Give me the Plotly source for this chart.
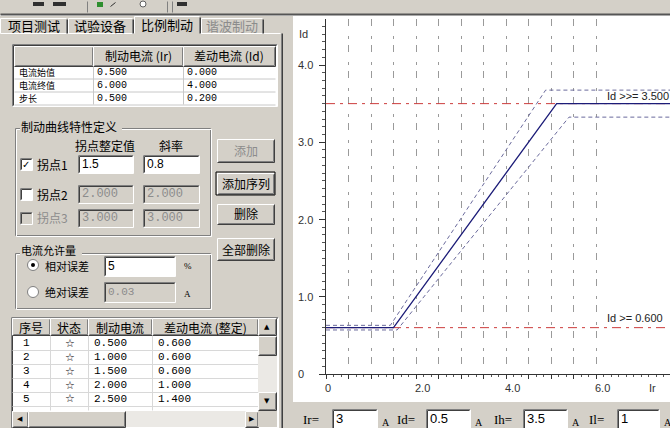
import plotly.graph_objects as go

# ---- chart data (Ir on x, Id on y) ----
ir_curve = [0, 1.5, 5.125, 7.7]
id_curve = [0.6, 0.6, 3.5, 3.5]
ir_upper = [0, 1.43, 4.88, 7.7]
id_upper = [0.63, 0.63, 3.675, 3.675]
ir_lower = [0, 1.58, 5.4, 7.7]
id_lower = [0.57, 0.57, 3.325, 3.325]
id_limits = [0.6, 3.5]
limit_text = ["Id >= 0.600", "Id >>= 3.500"]
limit_label_ir = [6.2, 6.2]
limit_label_id = [0.73, 3.6]

grid_ir = [0, 0.5, 1.0, 1.5, 2.0, 2.5, 3.0, 3.5, 4.0, 4.5, 5.0, 5.5, 6.0]
xtick_vals = [0, 2, 4, 6]
xtick_text = ["0", "2.0", "4.0", "6.0"]
ytick_vals = [0, 1, 2, 3, 4]
ytick_text = ["0", "1.0", "2.0", "3.0", "4.0"]

# ---- left panel contents ----
tabs = ["项目测试", "试验设备", "比例制动", "谐波制动"]
range_head = ["制动电流 (Ir)", "差动电流 (Id)"]
range_rows = ["电流始值", "电流终值", "步长"]
range_ir = ["0.500", "6.000", "0.500"]
range_id = ["0.000", "4.000", "0.200"]
knee_names = ["拐点1", "拐点2", "拐点3"]
knee_vals = ["1.5", "2.000", "3.000"]
knee_slopes = ["0.8", "2.000", "3.000"]
buttons = ["添加", "添加序列", "删除", "全部删除"]
seq_head = ["序号", "状态", "制动电流", "差动电流 (整定)"]
seq_no = ["1", "2", "3", "4", "5"]
seq_ir = ["0.500", "1.000", "1.500", "2.000", "2.500"]
seq_id = ["0.600", "0.600", "0.600", "1.000", "1.400"]
bottom_names = ["Ir=", "Id=", "Ih=", "Il="]
bottom_vals = ["3", "0.5", "3.5", "1"]

# page geometry in pixels
W, H = 670, 428
L, R, T, B = 326, 670, 19, 374

BG = "#d4d0c8"
DARK = "#808080"
DARKER = "#404040"
GREY_TXT = "#8c8c8c"
CJK = "Noto Sans CJK SC"
SANS = "Liberation Sans"
SERIF = "Liberation Serif"
MONO = "Liberation Mono"


def fx(x):
    return (x - L) / (R - L)


def fy(y):
    return (B - y) / (B - T)


shapes = []
annos = []


def rect(x0, y0, x1, y1, fill, line=None):
    shapes.append(dict(type="rect", xref="paper", yref="paper",
                       x0=fx(x0), x1=fx(x1), y0=fy(y1), y1=fy(y0),
                       fillcolor=fill, line=dict(width=1 if line else 0, color=line or fill)))


def seg(x0, y0, x1, y1, color, w=1):
    shapes.append(dict(type="line", xref="paper", yref="paper",
                       x0=fx(x0 + 0.5), x1=fx(x1 + 0.5), y0=fy(y0 + 0.5), y1=fy(y1 + 0.5),
                       line=dict(width=w, color=color)))


def circle(cx, cy, r, fill, line=None):
    shapes.append(dict(type="circle", xref="paper", yref="paper",
                       x0=fx(cx - r), x1=fx(cx + r), y0=fy(cy + r), y1=fy(cy - r),
                       fillcolor=fill, line=dict(width=1 if line else 0, color=line or fill)))


def txt(x, y, s, size=12, color="#000000", xa="left", font=CJK):
    annos.append(dict(x=fx(x), y=fy(y), xref="paper", yref="paper", text=s,
                      showarrow=False, xanchor=xa, yanchor="middle", borderpad=0,
                      font=dict(family=font, size=size, color=color)))


def sunken(x0, y0, x1, y1, fill="#ffffff"):
    rect(x0, y0, x1, y1, fill)
    seg(x0, y0, x1, y0, DARK)
    seg(x0, y0, x0, y1, DARK)
    seg(x0 + 1, y0 + 1, x1 - 1, y0 + 1, DARKER)
    seg(x0 + 1, y0 + 1, x0 + 1, y1 - 1, DARKER)
    seg(x0, y1, x1, y1, "#ffffff")
    seg(x1, y0, x1, y1, "#ffffff")


def raised(x0, y0, x1, y1, fill=BG):
    rect(x0, y0, x1, y1, fill)
    seg(x0, y0, x1, y0, "#ffffff")
    seg(x0, y0, x0, y1, "#ffffff")
    seg(x0, y1, x1, y1, DARKER)
    seg(x1, y0, x1, y1, DARKER)
    seg(x0 + 1, y1 - 1, x1 - 1, y1 - 1, DARK)
    seg(x1 - 1, y0 + 1, x1 - 1, y1 - 1, DARK)


def etched(x0, y0, x1, y1):
    for c, d in ((DARK, 0), ("#ffffff", 1)):
        seg(x0 + d, y0 + d, x1 + d, y0 + d, c)
        seg(x0 + d, y0 + d, x0 + d, y1 + d, c)
        seg(x0 + d, y1 + d, x1 + d, y1 + d, c)
        seg(x1 + d, y0 + d, x1 + d, y1 + d, c)


# ---- window background pieces ----
rect(0, 0, W, 15, BG)
seg(0, 14, W, 14, "#555555", 2)
rect(0, 16, 293, H, BG)
rect(283, 402, W, H, BG)

# toolbar hints
seg(87, 1, 87, 12, DARK)
seg(167, 1, 167, 12, DARK)
seg(172, 1, 172, 12, DARK)
rect(33, 2, 44, 6, "#303030")
rect(53, 2, 66, 6, "#303030")
rect(97, 2, 103, 7, "#2f8f2f")
seg(110, 6, 115, 2, "#303030")
circle(143, 4, 3, "#ffffff", "#606060")
rect(177, 2, 187, 6, "#303030")

# tabs
tab_x = [(0, 67), (68, 133), (134, 200), (201, 263)]
seg(0, 33, 280, 33, "#ffffff")
for i, (a, b) in enumerate(tab_x):
    top = 16 if i == 2 else 18
    if i == 2:
        rect(a, top, b, 34, BG)
    seg(a, top, b - 1, top, "#ffffff")
    seg(a, top, a, 33, "#ffffff")
    seg(b, top + 1, b, 33, DARKER)
    seg(b - 1, top + 1, b - 1, 33, DARK)
    txt((a + b) / 2, 25 if i == 2 else 26, tabs[i], xa="center", size=13,
        color=GREY_TXT if i == 3 else "#000000")
seg(281, 33, 281, H, DARK)
seg(282, 33, 282, H, DARKER)

# table with current range
sunken(12, 44, 277, 106)
col1 = [14, 93, 183, 275]
for i in range(3):
    raised(col1[i], 46, col1[i + 1], 66)
for i, h in enumerate(range_head):
    txt((col1[i + 1] + col1[i + 2]) / 2, 56, h, xa="center", size=12)
for r in range(3):
    yc = 72.5 + 13 * r
    seg(14, yc + 6, 275, yc + 6, "#c8c8c8")
    txt(18, yc, range_rows[r], size=9)
    txt(96, yc, range_ir[r], font=MONO, size=10)
    txt(186, yc, range_id[r], font=MONO, size=10)
seg(93, 66, 93, 104, "#c8c8c8")
seg(183, 66, 183, 104, "#c8c8c8")

# group: braking curve definition
etched(15, 128, 210, 235)
rect(20, 119, 122, 133, BG)
txt(20, 126, "制动曲线特性定义", size=12)
txt(105, 145, "拐点整定值", xa="center", size=12)
txt(171, 145, "斜率", xa="center", size=12)
for r in range(3):
    yc = [164, 194, 218][r]
    enabled = r == 0
    sunken(20, yc - 6, 32, yc + 6, "#ffffff" if r < 2 else BG)
    if enabled:
        txt(26, yc, "✓", size=10, xa="center", font="DejaVu Sans")
    txt(36, yc, knee_names[r], size=12, color="#000000" if r < 2 else GREY_TXT)
    box_fill = "#ffffff" if enabled else BG
    col = "#000000" if enabled else GREY_TXT
    sunken(78, yc - 9, 133, yc + 9, box_fill)
    sunken(143, yc - 9, 199, yc + 9, box_fill)
    txt(81, yc, knee_vals[r], font=MONO if not enabled else SANS, size=12, color=col)
    txt(146, yc, knee_slopes[r], font=MONO if not enabled else SANS, size=12, color=col)

# buttons
btn_y = [(139, 162), (173, 194), (204, 224), (238, 260)]
for i, (a, b) in enumerate(btn_y):
    if i == 1:
        rect(216, a - 1, 275, b + 1, BG, "#000000")
    raised(217, a, 274, b)
    txt(245.5, (a + b) / 2, buttons[i], xa="center", size=12,
        color=GREY_TXT if i == 0 else "#000000")

# group: allowed current error
etched(15, 253, 210, 308)
rect(20, 244, 82, 259, BG)
txt(20, 250, "电流允许量", size=11)
circle(33, 265, 5.5, "#ffffff", DARK)
circle(33, 265, 2, "#000000")
circle(33, 292, 5.5, "#ffffff", DARK)
txt(44, 266, "相对误差", size=11)
txt(44, 292, "绝对误差", size=11)
sunken(104, 256, 175, 276)
txt(107, 266, "5", font=SANS, size=12)
sunken(104, 282, 175, 302, BG)
txt(107, 292, "0.03", font=MONO, size=11, color=GREY_TXT)
txt(183, 266, "%", size=9, font=SERIF)
txt(183, 294, "A", size=9, font=SERIF)

# sequence table
sunken(11, 317, 278, 428)
col2 = [12, 50, 88, 152, 258]
for i in range(4):
    raised(col2[i], 318, col2[i + 1], 335)
    txt((col2[i] + col2[i + 1]) / 2, 327, seq_head[i], xa="center", size=12)
for r in range(5):
    yc = 343 + 14 * r
    seg(12, yc + 7, 258, yc + 7, "#d8d8d8")
    txt(26, yc, seq_no[r], xa="center", font=MONO, size=11)
    txt(70, yc, "☆", xa="center", size=11, font="DejaVu Sans")
    txt(93, yc, seq_ir[r], font=MONO, size=11)
    txt(157, yc, seq_id[r], font=MONO, size=11)
for c in col2[1:4]:
    seg(c, 335, c, 410, "#d8d8d8")
# scrollbars
rect(258, 318, 277, 410, "#ebe9e5")
raised(258, 318, 276, 335)
txt(267, 327, "▲", size=7, xa="center", font="DejaVu Sans")
raised(258, 336, 276, 355)
raised(258, 392, 276, 410)
txt(267, 401, "▼", size=7, xa="center", font="DejaVu Sans")
rect(12, 411, 258, 427, "#ebe9e5")
raised(12, 411, 28, 427)
txt(20, 419, "◀", size=7, xa="center", font="DejaVu Sans")
raised(28, 411, 125, 427)
raised(245, 411, 258, 427)
txt(251.5, 419, "▶", size=7, xa="center", font="DejaVu Sans")
rect(258, 411, 277, 427, BG)

# bottom input row of the chart panel
bx = [(332, 377), (426, 470), (523, 567), (617, 659)]
lx = [302, 396, 493, 588]
for i, (a, b) in enumerate(bx):
    txt(lx[i], 419, bottom_names[i], size=13, font=SERIF)
    sunken(a, 409, b, 430)
    txt(a + 3, 418, bottom_vals[i], size=13, font=SANS)
    txt(b + 4, 422, "A", size=10, font=SERIF)

# ---- chart ----
fig = go.Figure()
for lim in id_limits:
    fig.add_trace(go.Scatter(x=[0, 7.7], y=[lim, lim], mode="lines",
                             line=dict(color="#cc3c3c", width=1, dash="9px,5px,3px,5px")))
fig.add_trace(go.Scatter(x=ir_upper, y=id_upper, mode="lines",
                         line=dict(color="#6a6a9c", width=1, dash="4px,3px")))
fig.add_trace(go.Scatter(x=ir_lower, y=id_lower, mode="lines",
                         line=dict(color="#6a6a9c", width=1, dash="4px,3px")))
fig.add_trace(go.Scatter(x=ir_curve, y=id_curve, mode="lines",
                         line=dict(color="#1c1c78", width=1.3)))

for t, xv, yv in zip(limit_text, limit_label_ir, limit_label_id):
    annos.append(dict(x=xv, y=yv, xref="x", yref="y", text=t, showarrow=False,
                      xanchor="left", yanchor="middle",
                      font=dict(family=SANS, size=11, color="#222222")))
for v, t in zip(xtick_vals, xtick_text):
    annos.append(dict(x=v, y=fy(388), xref="x", yref="paper", text=t, showarrow=False,
                      xanchor="left", yanchor="middle", xshift=-3,
                      font=dict(family=SANS, size=11, color="#333333")))
for v, t in zip(ytick_vals, ytick_text):
    annos.append(dict(x=fx(296), y=v, xref="paper", yref="y", text=t, showarrow=False,
                      xanchor="left", yanchor="middle",
                      font=dict(family=SANS, size=11, color="#333333")))
txt(298, 34, "Id", size=11, font=SANS, color="#333333")
txt(648, 388, "Ir", size=11, font=SANS, color="#333333")

fig.update_layout(
    width=W, height=H,
    margin=dict(l=L, r=W - R, t=T, b=H - B, autoexpand=False),
    paper_bgcolor="#ffffff", plot_bgcolor="#ffffff",
    showlegend=False, hovermode=False,
    shapes=shapes, annotations=annos,
    xaxis=dict(range=[0, (R - L) / 45], tickmode="array", tickvals=grid_ir,
               showticklabels=False, ticks="outside", ticklen=4, tickcolor="#333333",
               showgrid=True, gridcolor="#9a9a9a", gridwidth=1, griddash="7px,10px,3px,6px",
               showline=True, linecolor="#333333", linewidth=1, zeroline=False,
               minor=dict(dtick=0.5 / 3, tick0=0, ticks="outside", ticklen=2, tickcolor="#555555", showgrid=False),
               automargin=False, fixedrange=True),
    yaxis=dict(range=[0, (B - T) / 77.25], tickmode="array", tickvals=ytick_vals,
               showticklabels=False, ticks="outside", ticklen=6, tickcolor="#333333",
               showgrid=False, showline=True, linecolor="#333333", linewidth=1, zeroline=False,
               minor=dict(dtick=0.1, tick0=0, ticks="outside", ticklen=3, tickcolor="#555555", showgrid=False),
               automargin=False, fixedrange=True),
)

# the page has a default body margin; drop it so the figure sits at the window corner
fig.write_html("out.html", config=dict(displayModeBar=False),
               post_script="document.body.style.margin='0px';")
